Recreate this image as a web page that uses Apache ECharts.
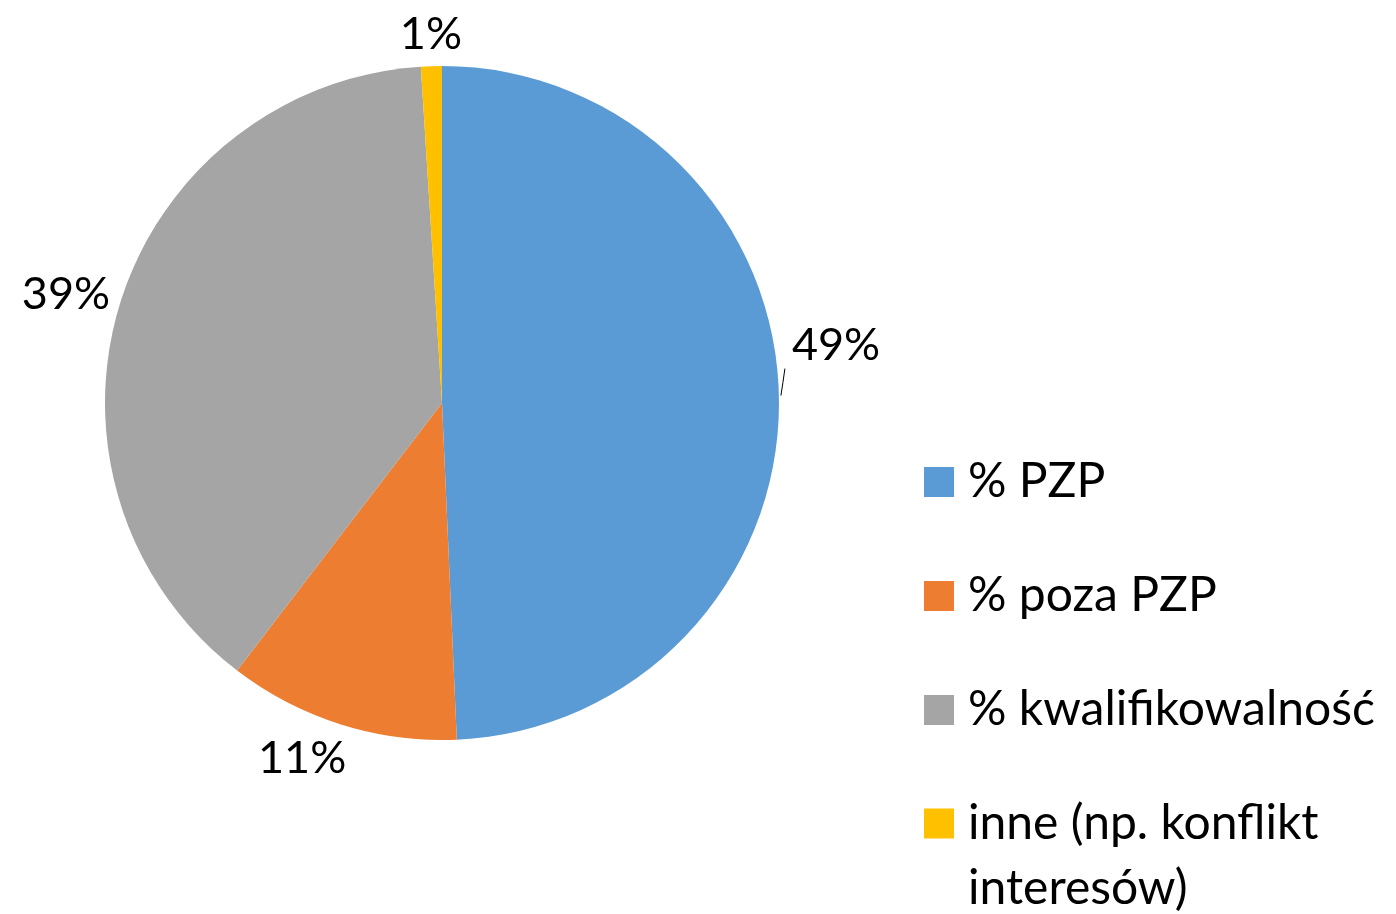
<!DOCTYPE html>
<html>
<head>
<meta charset="utf-8">
<script src="https://cdn.jsdelivr.net/npm/echarts@6/dist/echarts.min.js"></script>
<style>
html, body { margin: 0; padding: 0; background: #fff; }
#Pie { width: 1396px; height: 914px; }
</style>
</head>
<body>
<div id="Pie"></div>
<script>
var categories = ['% PZP', '% poza PZP', '% kwalifikowalność', 'inne (np. konflikt interesów)'];
var values = [49.3, 11.1, 38.6, 1.0];
var colors = ['#5B9BD5', '#ED7D31', '#A5A5A5', '#FFC000'];

var myPie = echarts.init(document.getElementById('Pie'));

var font = 'Lato';
// nudges so the labels sit where the original "best fit" put them
var labelShift = [[-8, -50], [18, 23], [11, -7], [40, -20]];

var pieData = categories.map(function (name, i) {
    return {
        name: name,
        value: values[i],
        itemStyle: { color: colors[i] },
        labelLine: { show: i === 0 }
    };
});

option = {
    backgroundColor: '#fff',
    animation: false,
    legend: [{
        orient: 'vertical',
        left: 924,
        top: 455,
        padding: 0,
        itemWidth: 39,
        itemHeight: 30,
        itemGap: 60,
        icon: 'path://M0,0h30v30h-30z M39,0h0.01',
        textStyle: { fontFamily: font, fontSize: 48, color: '#000', lineHeight: 54 },
        data: categories.slice(0, 3)
    }, {
        orient: 'vertical',
        left: 924,
        top: 791,
        padding: 0,
        itemWidth: 39,
        itemHeight: 130,
        icon: 'path://M0,0h0.01 M0,17.5h30v30h-30z M39,130h0.01',
        textStyle: { fontFamily: font, fontSize: 48, color: '#000', lineHeight: 65 },
        formatter: function (name) {
            return name.replace(' interesów', '\ninteresów');
        },
        data: categories.slice(3)
    }],
    series: [{
        type: 'pie',
        center: [442, 403],
        radius: 337,
        startAngle: 90,
        clockwise: true,
        percentPrecision: 0,
        data: pieData,
        label: {
            show: true,
            position: 'outside',
            formatter: '{d}%',
            fontFamily: font,
            fontSize: 45,
            color: '#000',
            width: 160,
            overflow: 'none'
        },
        labelLine: {
            length: 12,
            length2: 4,
            lineStyle: { color: '#000', width: 1 }
        },
        labelLayout: function (params) {
            var s = labelShift[params.dataIndex];
            var out = { dx: s[0], dy: s[1] };
            var pts = params.labelLinePoints;
            if (pts && params.dataIndex === 0) {
                var p = pts[0];
                out.labelLinePoints = [[p[0] + 2, p[1]], [p[0] + 4, p[1] - 13], [p[0] + 6, p[1] - 27]];
            }
            return out;
        }
    }]
};
myPie.setOption(option);
</script>
</body>
</html>
